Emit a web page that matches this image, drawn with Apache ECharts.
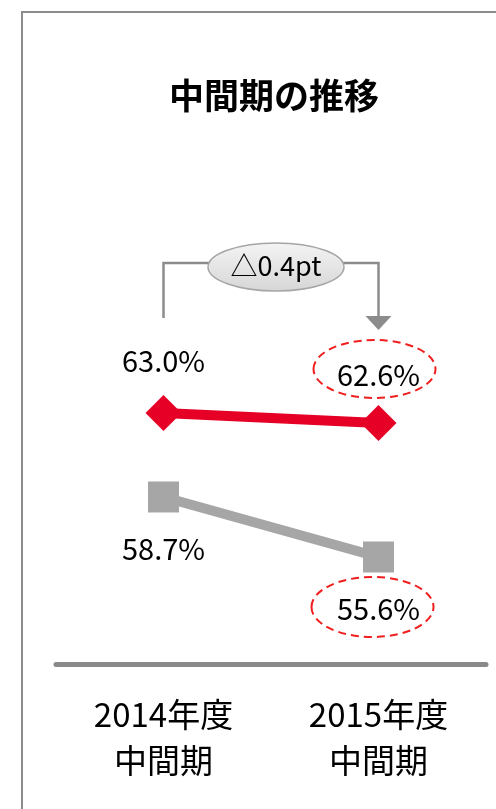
<!DOCTYPE html>
<html>
<head>
<meta charset="utf-8">
<script src="https://cdn.jsdelivr.net/npm/echarts@6/dist/echarts.min.js"></script>
<style>
html, body { margin: 0; padding: 0; background: #fff; }
#main { width: 496px; height: 809px; }
</style>
</head>
<body>
<div id="main"></div>
<script>
var titleText = '中間期の推移';
var categories = ['2014年度\n中間期', '2015年度\n中間期'];
var redValues = [63.0, 62.6];
var greyValues = [58.7, 55.6];
var diffText = '△0.4pt';

var font = '"Noto Sans CJK JP", "Noto Sans", sans-serif';
var red = '#e60026';
var grey = '#a6a6a6';
var lineGrey = '#8c8c8c';

var chart = echarts.init(document.getElementById('main'));

function pct(p) {
    return p.value.toFixed(1) + '%';
}

var option = {
    backgroundColor: '#fff',
    animation: false,
    title: {
        text: titleText,
        left: 164,
        top: 73,
        textStyle: { fontSize: 35, fontWeight: 'bold', color: '#000', fontFamily: font }
    },
    grid: { left: 56, right: 10, top: 120, bottom: 145 },
    xAxis: {
        type: 'category',
        data: categories,
        axisLine: { lineStyle: { color: '#898989', width: 5 } },
        axisTick: { show: false },
        axisLabel: { fontSize: 33, lineHeight: 46, color: '#000', margin: 27, fontFamily: font }
    },
    yAxis: [
        { type: 'value', min: 52.96, max: 74.72, show: false, splitLine: { show: false } },
        { type: 'value', min: 50.07, max: 78.18, show: false, splitLine: { show: false } }
    ],
    series: [
        {
            type: 'line',
            yAxisIndex: 0,
            data: redValues.map(function (v, i) {
                return { value: v, label: { distance: i === 0 ? 20 : 16 } };
            }),
            symbol: 'diamond',
            symbolSize: 36,
            lineStyle: { color: red, width: 10 },
            itemStyle: { color: red },
            label: { show: true, position: 'top', formatter: pct, fontSize: 29, color: '#000', fontFamily: font }
        },
        {
            type: 'line',
            yAxisIndex: 1,
            data: greyValues,
            symbol: 'rect',
            symbolSize: 31,
            lineStyle: { color: grey, width: 10 },
            itemStyle: { color: grey },
            label: { show: true, position: 'bottom', distance: 22, formatter: pct, fontSize: 29, color: '#000', fontFamily: font }
        }
    ]
};
chart.setOption(option);

// annotations placed from the data points
var x0 = chart.convertToPixel({ xAxisIndex: 0 }, categories[0]);
var x1 = chart.convertToPixel({ xAxisIndex: 0 }, categories[1]);
var redEnd = chart.convertToPixel({ seriesIndex: 0 }, [1, redValues[1]]);
var greyEnd = chart.convertToPixel({ seriesIndex: 1 }, [1, greyValues[1]]);
var bubbleX = (x0 + x1) / 2 + 5;
var topY = 263, legY = 318;

chart.setOption({
    graphic: [
        // frame
        { type: 'polyline', shape: { points: [[22, 809], [22, 12], [496, 12]] },
          style: { stroke: lineGrey, lineWidth: 2, fill: null } },
        // bracket
        { type: 'polyline', shape: { points: [[x0, legY], [x0, topY], [x1, topY], [x1, legY]] },
          style: { stroke: lineGrey, lineWidth: 2.5, fill: null } },
        { type: 'polygon', shape: { points: [[x1 - 13, legY - 2], [x1 + 13, legY - 2], [x1, legY + 12]] },
          style: { fill: lineGrey } },
        { type: 'ellipse', shape: { cx: bubbleX, cy: 267, rx: 68, ry: 24 },
          style: {
              fill: new echarts.graphic.LinearGradient(0, 0, 0, 1, [
                  { offset: 0, color: '#f4f4f4' }, { offset: 1, color: '#d6d6d6' }
              ]),
              stroke: grey, lineWidth: 1.5
          } },
        { type: 'text', style: { text: diffText, x: bubbleX, y: 266, align: 'center', verticalAlign: 'middle',
              fontSize: 27, fontFamily: font, fill: '#000' } },
        // dashed highlight ellipses round the 2015 labels
        { type: 'ellipse', shape: { cx: redEnd[0] - 4, cy: redEnd[1] - 54, rx: 61, ry: 29 },
          style: { fill: null, stroke: '#f01e1e', lineWidth: 2, lineDash: [8, 5] } },
        { type: 'ellipse', shape: { cx: greyEnd[0] - 6, cy: greyEnd[1] + 50, rx: 61, ry: 30 },
          style: { fill: null, stroke: '#f01e1e', lineWidth: 2, lineDash: [8, 5] } }
    ]
});
</script>
</body>
</html>
